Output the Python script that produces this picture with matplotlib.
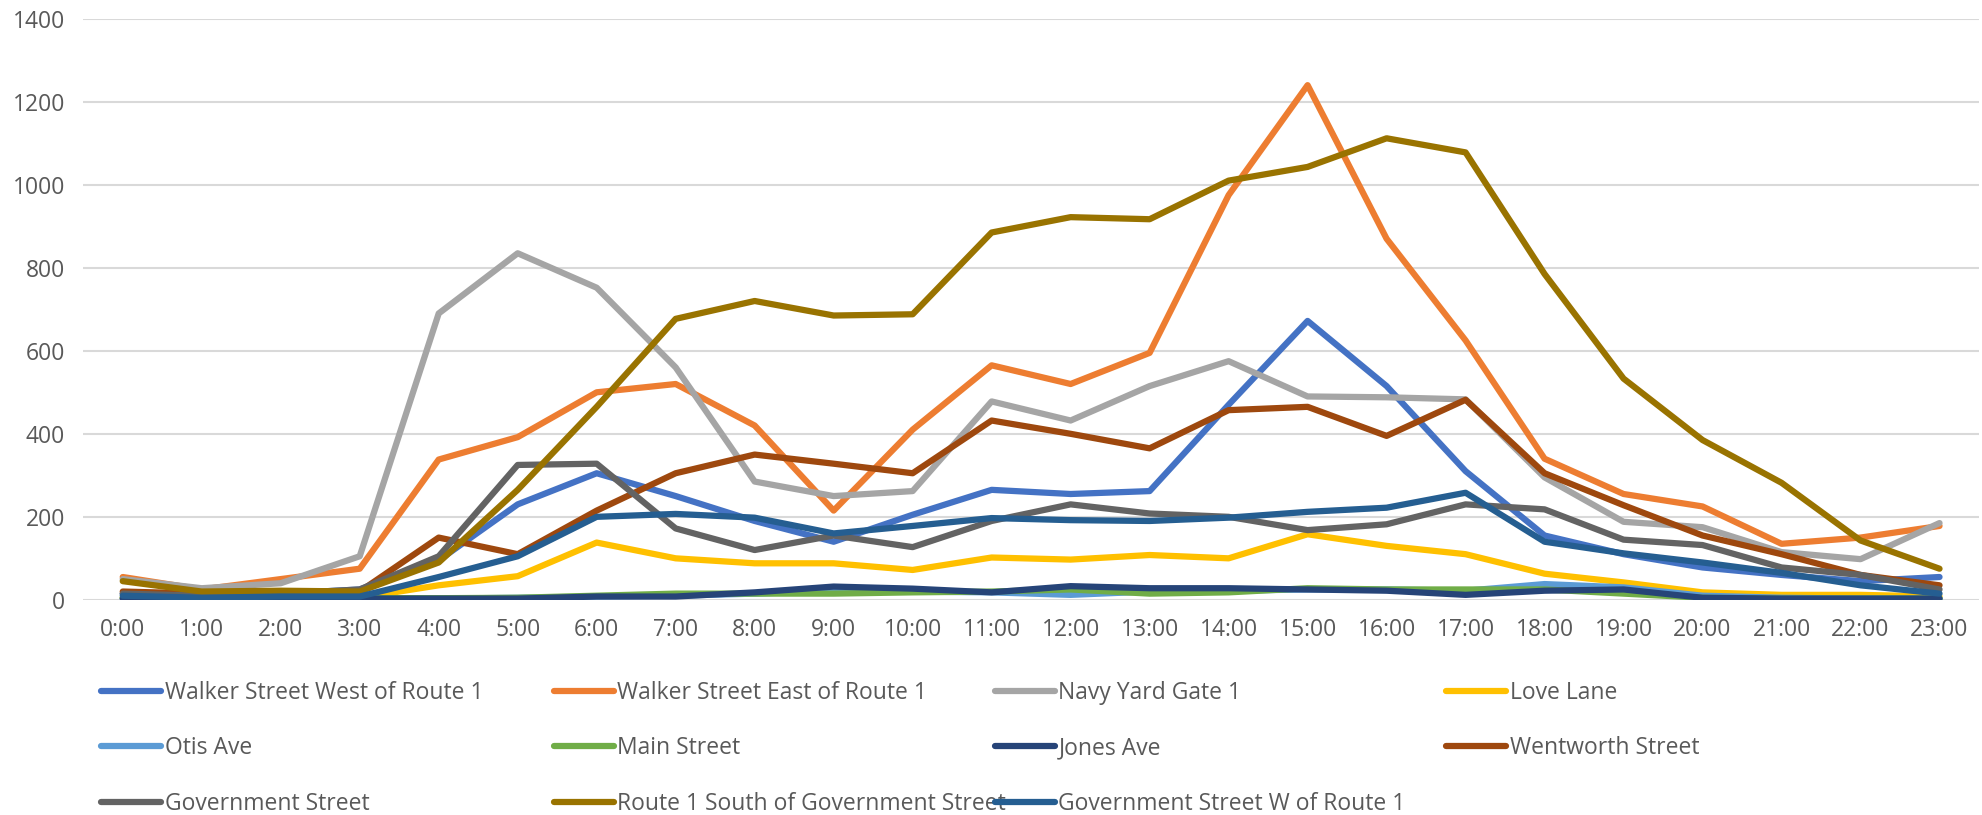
import matplotlib.pyplot as plt
from matplotlib.ticker import MultipleLocator

hours = [f"{h}:00" for h in range(24)]

walker_west = [15, 10, 15, 25, 95, 230, 305, 250, 190, 140, 205, 265,
               255, 262, 470, 672, 515, 310, 155, 110, 78, 60, 45, 55]
walker_east = [55, 25, 50, 75, 338, 392, 500, 520, 420, 215, 410, 565,
               520, 595, 975, 1240, 870, 625, 340, 255, 225, 135, 150, 178]
navy_yard = [50, 28, 40, 105, 690, 835, 752, 560, 285, 250, 262, 478,
             432, 515, 575, 490, 488, 483, 295, 188, 175, 115, 98, 185]
love_lane = [5, 3, 5, 5, 35, 57, 138, 100, 88, 88, 72, 102,
             97, 108, 100, 158, 130, 110, 63, 42, 18, 12, 12, 8]
otis_ave = [3, 2, 3, 3, 3, 5, 8, 10, 15, 22, 20, 18,
            12, 20, 22, 25, 25, 22, 38, 30, 10, 5, 3, 3]
main_street = [5, 4, 4, 4, 4, 5, 10, 15, 15, 15, 18, 20,
               25, 15, 18, 28, 25, 25, 25, 15, 5, 3, 3, 3]
jones_ave = [3, 3, 3, 3, 3, 3, 8, 8, 18, 32, 27, 18,
             33, 28, 28, 25, 22, 12, 22, 25, 5, 3, 3, 3]
wentworth = [20, 15, 20, 20, 150, 110, 215, 305, 350, 328, 305, 432,
             400, 365, 457, 465, 395, 482, 305, 228, 155, 110, 60, 35]
government = [15, 10, 15, 25, 105, 325, 328, 172, 120, 155, 127, 190,
              230, 208, 200, 168, 182, 230, 218, 145, 132, 78, 60, 25]
route1_south = [45, 20, 22, 20, 90, 265, 465, 677, 720, 685, 688, 885,
                922, 917, 1010, 1043, 1112, 1078, 785, 533, 385, 282, 143, 75]
gov_w_route1 = [10, 5, 8, 8, 55, 105, 200, 207, 198, 160, 178, 197,
                192, 190, 198, 212, 222, 258, 140, 112, 90, 65, 35, 15]

series = [
    ("Walker Street West of Route 1", walker_west, "#4472C4"),
    ("Walker Street East of Route 1", walker_east, "#ED7D31"),
    ("Navy Yard Gate 1", navy_yard, "#A5A5A5"),
    ("Love Lane", love_lane, "#FFC000"),
    ("Otis Ave", otis_ave, "#5B9BD5"),
    ("Main Street", main_street, "#70AD47"),
    ("Jones Ave", jones_ave, "#264478"),
    ("Wentworth Street", wentworth, "#9E480E"),
    ("Government Street", government, "#636363"),
    ("Route 1 South of Government Street", route1_south, "#997300"),
    ("Government Street W of Route 1", gov_w_route1, "#255E91"),
]

plt.rcParams["font.family"] = ["Open Sans", "DejaVu Sans"]

fig = plt.figure(figsize=(19.82, 8.15), dpi=100)
ax = fig.add_axes([0.042, 0.264, 0.9565, 0.713])

lines = []
for name, vals, color in series:
    ln, = ax.plot(range(len(hours)), vals, color=color, lw=4.5,
                  solid_joinstyle="round", solid_capstyle="round", label=name)
    lines.append(ln)

ax.set_xlim(-0.5, 23.5)
ax.set_ylim(0, 1400)
ax.yaxis.set_major_locator(MultipleLocator(200))
ax.set_xticks(range(len(hours)))
ax.set_xticklabels(hours)
ax.grid(axis="y", color="#D9D9D9", lw=1.5)
ax.set_axisbelow(True)
for s in ax.spines.values():
    s.set_visible(False)
ax.tick_params(length=0, labelsize=16.5, labelcolor="#595959", pad=13)

# legend laid out as four equal columns like the original
col_x = [0.051, 0.2795, 0.502, 0.7296]
for c in range(4):
    idx = list(range(c, len(lines), 4))
    fig.legend([lines[i] for i in idx], [series[i][0] for i in idx],
               loc="upper left", bbox_to_anchor=(col_x[c], 0.165),
               frameon=False, handlelength=2.62, handletextpad=0.15,
               labelspacing=1.38, borderpad=0, borderaxespad=0,
               prop={"size": 16.5}, labelcolor="#595959")

fig.savefig("out.png", dpi=100)
